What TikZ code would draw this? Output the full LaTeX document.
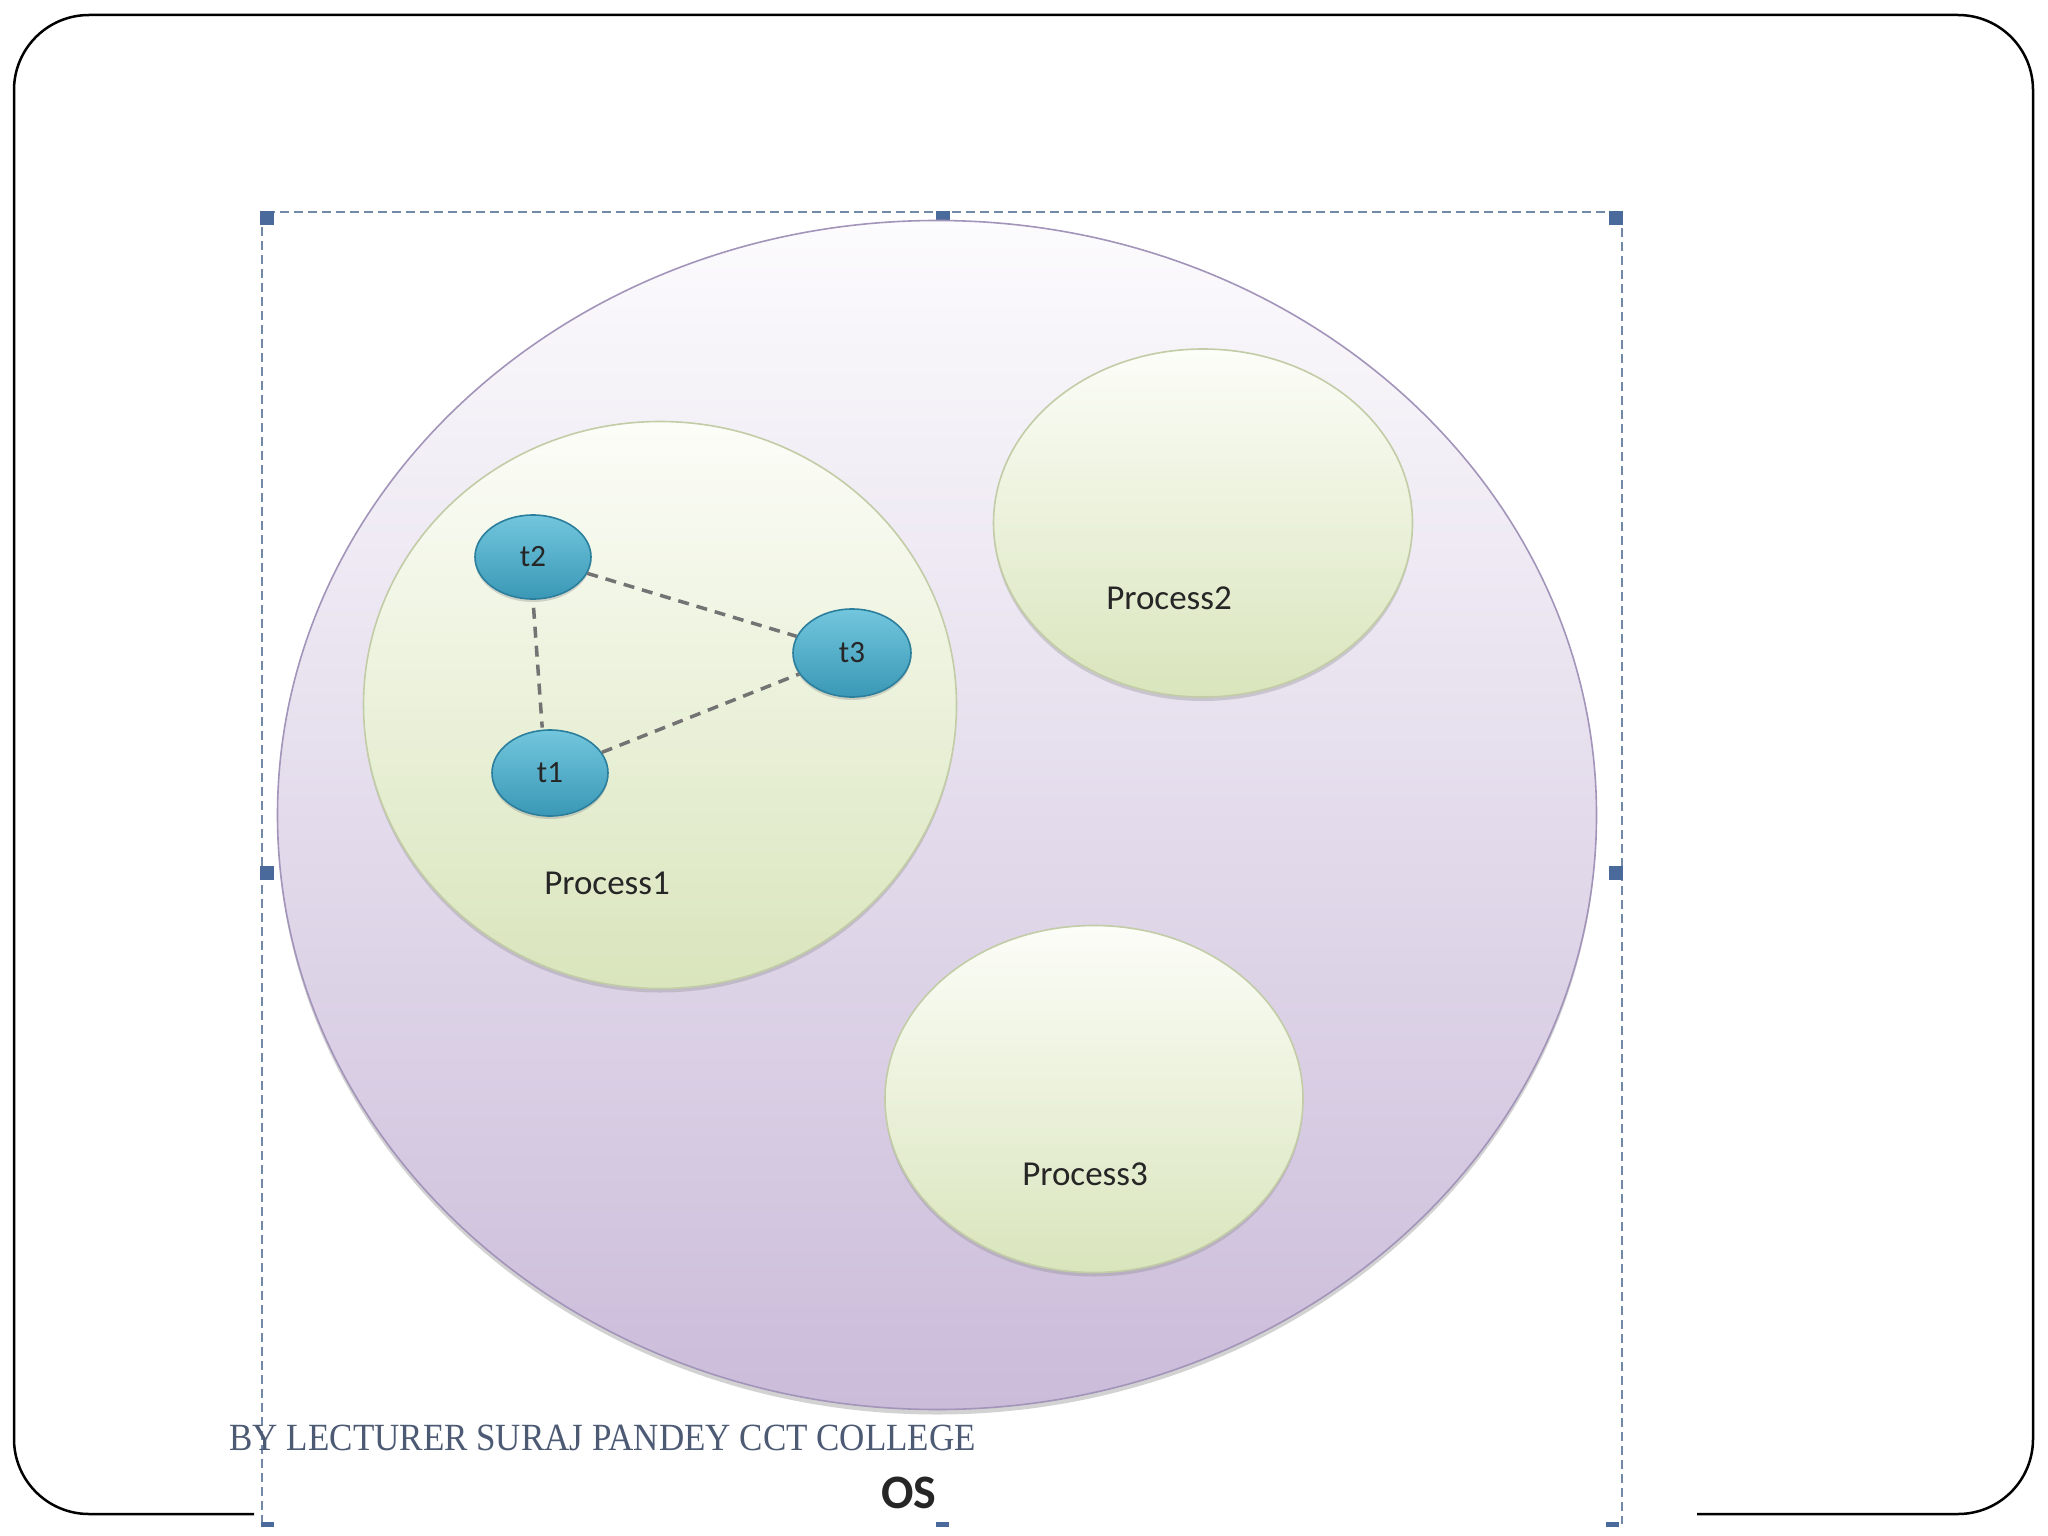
\documentclass[tikz,border=0pt]{standalone}
\usepackage{fontspec}
\setmainfont{Carlito}
\newfontfamily\slidefont{Liberation Serif}
\usetikzlibrary{shapes.geometric,shadows}
\definecolor{ostop}{HTML}{FCFBFD}
\definecolor{osmid}{HTML}{ECE6F1}
\definecolor{osbot}{HTML}{CBBCDA}
\definecolor{osedge}{HTML}{A394BA}
\definecolor{prtop}{HTML}{FCFDF8}
\definecolor{prbot}{HTML}{D9E5BC}
\definecolor{predge}{HTML}{C2CCA6}
\definecolor{thtop}{HTML}{72C6DD}
\definecolor{thbot}{HTML}{3A98B6}
\definecolor{thedge}{HTML}{2C7F9C}
\definecolor{selblue}{HTML}{7389A8}
\definecolor{handleblue}{HTML}{4B6A9C}
\definecolor{footgray}{HTML}{4D5A74}

\begin{document}
\begin{tikzpicture}[x=1pt,y=-1pt,
		blob/.style={ellipse,inner sep=0,line width=1.6pt},
		osblob/.style={blob,draw=osedge,top color=ostop,middle color=osmid,bottom color=osbot,
			drop shadow={shadow xshift=0pt,shadow yshift=-5pt,opacity=.35,fill=gray}},
		procblob/.style={blob,draw=predge,top color=prtop,bottom color=prbot,
			drop shadow={shadow xshift=0pt,shadow yshift=-4pt,opacity=.3,fill=gray}},
		thread/.style={blob,draw=thedge,top color=thtop,bottom color=thbot,text=black!85,
			font=\fontsize{31}{36}\selectfont,
			drop shadow={shadow xshift=0pt,shadow yshift=-3pt,opacity=.3,fill=gray}},
		proclabel/.style={text=black!85,font=\fontsize{35}{42}\selectfont},
		link/.style={draw=black!55,line width=3.5pt,dash pattern=on 11pt off 8pt}]
	\useasboundingbox (0,0) rectangle (2048,1536);
	\fill[white] (0,0) rectangle (2048,1536);
	\draw[line width=2.5pt,rounded corners=75pt] (254,1514) -| (14,15) -| (2033,1514) -- (1697,1514);
	\draw[selblue,line width=2pt,dash pattern=on 9pt off 5pt] (262,1524) -- (262,212) -- (1622,212) -- (1622,1524);
	\foreach \hx/\hy in {260/211,936/211,1609/211,260/866,1609/866}{
		\fill[handleblue] (\hx,\hy) rectangle ++(14,14);
	}
	\foreach \hx in {261,936,1606}{ \fill[handleblue] (\hx,1522) rectangle ++(13,5); }
	\node[osblob,minimum width=1319pt,minimum height=1189pt] (os) at (937,815) {};
	\node[procblob,minimum width=593pt,minimum height=567pt] (p1) at (660,705) {};
	\node[procblob,minimum width=419pt,minimum height=348pt] (p2) at (1203,523) {};
	\node[procblob,minimum width=418pt,minimum height=347pt] (p3) at (1094,1099) {};
	\node[proclabel] (p1lbl) at (607,883) {Process1};
	\node[proclabel] (p2lbl) at (1169,598) {Process2};
	\node[proclabel] (p3lbl) at (1085,1174) {Process3};
	\node[thread,minimum width=116pt,minimum height=84pt] (t2) at (533,557) {t2};
	\node[thread,minimum width=118pt,minimum height=88pt] (t3) at (852,653) {t3};
	\node[thread,minimum width=116pt,minimum height=86pt] (t1) at (550,773) {t1};
	\draw[link,shorten <=8pt,shorten >=2pt] (t2.south) -- (t1.100);
	\draw[link] (t2) -- (t3);
	\draw[link] (t1) -- (t3);
	\node[anchor=base west,text=footgray,font=\slidefont\fontsize{35}{42}\selectfont,yscale=1.1] (byline) at (226,1450) {BY LECTURER SURAJ PANDEY CCT COLLEGE};
	\node[anchor=base,text=black!85,font=\fontsize{48}{56}\selectfont\bfseries] (oslbl) at (909,1508) {OS};
\end{tikzpicture}
\end{document}
